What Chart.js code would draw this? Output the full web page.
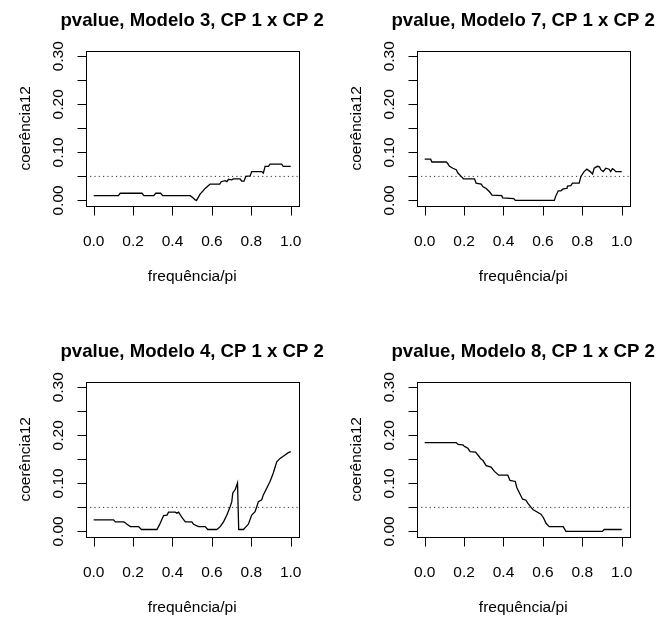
<!DOCTYPE html>
<html>
<head>
<meta charset="utf-8">
<script src="https://cdn.jsdelivr.net/npm/chart.js@4"></script>
<style>
  body { margin: 0; background: #fff; width: 662px; height: 617px; overflow: hidden; position: relative; }
  .cell { position: absolute; width: 331px; height: 331px; }
</style>
</head>
<body>
<div class="cell" style="left:0;top:0"><canvas id="c3" width="331" height="331"></canvas></div>
<div class="cell" style="left:331px;top:0"><canvas id="c7" width="331" height="331"></canvas></div>
<div class="cell" style="left:0;top:331px"><canvas id="c4" width="331" height="331"></canvas></div>
<div class="cell" style="left:331px;top:331px"><canvas id="c8" width="331" height="331"></canvas></div>
<script>
// values (frequencia/pi, pvalue)
const m3Freq = [0.00,0.125,0.135,0.245,0.255,0.305,0.315,0.34,0.35,0.49,0.505,0.515,0.522,0.54,0.555,0.566,0.58,0.591,0.64,0.647,0.667,0.676,0.684,0.70,0.709,0.743,0.751,0.763,0.772,0.794,0.802,0.853,0.861,0.870,0.887,0.895,0.954,0.962,1.0];
const m3Pval = [0.010,0.010,0.015,0.015,0.010,0.010,0.015,0.015,0.010,0.010,0.005,0.001,0.0,0.013,0.020,0.025,0.030,0.034,0.034,0.039,0.041,0.039,0.044,0.043,0.045,0.045,0.040,0.040,0.050,0.051,0.060,0.060,0.057,0.071,0.071,0.0755,0.0755,0.071,0.071];

const m7Freq = [0.00,0.030,0.037,0.110,0.118,0.126,0.143,0.160,0.169,0.185,0.197,0.253,0.261,0.287,0.295,0.312,0.329,0.342,0.391,0.396,0.452,0.460,0.658,0.666,0.678,0.691,0.703,0.722,0.725,0.742,0.750,0.784,0.793,0.809,0.823,0.840,0.852,0.860,0.877,0.887,0.894,0.906,0.919,0.936,0.944,0.953,0.961,0.970,1.0];
const m7Pval = [0.086,0.086,0.080,0.080,0.076,0.071,0.067,0.064,0.057,0.050,0.045,0.045,0.036,0.034,0.029,0.025,0.018,0.011,0.010,0.0055,0.004,0.0,0.0,0.010,0.020,0.020,0.024,0.025,0.030,0.031,0.036,0.036,0.050,0.060,0.065,0.060,0.055,0.067,0.071,0.070,0.064,0.060,0.067,0.065,0.060,0.066,0.064,0.060,0.060];

const m4Freq = [0.00,0.101,0.110,0.152,0.157,0.169,0.186,0.228,0.242,0.321,0.333,0.355,0.372,0.380,0.414,0.422,0.431,0.448,0.465,0.498,0.507,0.532,0.566,0.579,0.625,0.642,0.659,0.676,0.693,0.701,0.706,0.718,0.730,0.736,0.760,0.769,0.785,0.802,0.819,0.828,0.836,0.853,0.861,0.878,0.895,0.912,0.929,0.946,0.971,0.988,1.0];
const m4Pval = [0.024,0.024,0.020,0.020,0.019,0.015,0.010,0.010,0.004,0.004,0.013,0.033,0.034,0.040,0.040,0.038,0.040,0.029,0.020,0.020,0.015,0.010,0.010,0.004,0.004,0.010,0.020,0.034,0.052,0.062,0.080,0.087,0.101,0.004,0.004,0.008,0.015,0.034,0.041,0.052,0.062,0.066,0.076,0.090,0.104,0.122,0.145,0.152,0.159,0.164,0.166];

const m8Freq = [0.00,0.160,0.169,0.194,0.202,0.219,0.231,0.258,0.270,0.287,0.295,0.312,0.337,0.354,0.376,0.422,0.433,0.460,0.467,0.481,0.497,0.514,0.523,0.540,0.551,0.573,0.590,0.602,0.616,0.632,0.703,0.717,0.902,0.911,1.0];
const m8Pval = [0.185,0.185,0.181,0.180,0.177,0.173,0.166,0.165,0.159,0.150,0.148,0.137,0.134,0.125,0.117,0.117,0.106,0.104,0.092,0.080,0.067,0.065,0.059,0.050,0.045,0.040,0.036,0.029,0.017,0.010,0.010,0.0,0.0,0.004,0.004];

const refLevel = 0.05;
const xTicks = [0, 0.2, 0.4, 0.6, 0.8, 1.0];
const xTickLabels = ['0.0', '0.2', '0.4', '0.6', '0.8', '1.0'];
const yTicks = [0, 0.05, 0.10, 0.15, 0.20, 0.25, 0.30];
const yLabelTicks = [0, 0.10, 0.20, 0.30];
const yTickLabels = ['0.00', '0.10', '0.20', '0.30'];
const xMin = -0.04, xMax = 1.04;
const yMin = -0.012, yMax = 0.312;

const FONT = '"Liberation Sans", Arial, Helvetica, sans-serif';

// R style box, ticks and labels
const rFrame = {
  id: 'rFrame',
  afterDraw(chart, args, opts) {
    const ctx = chart.ctx, a = chart.chartArea;
    const xs = chart.scales.x, ys = chart.scales.y;
    const L = Math.round(a.left) + 0.5, R = Math.round(a.right) + 0.5;
    const T = Math.round(a.top) + 0.5, B = Math.round(a.bottom) + 0.5;
    const tickLen = 9;
    ctx.save();
    ctx.strokeStyle = '#000';
    ctx.fillStyle = '#000';
    ctx.lineWidth = 1;
    ctx.strokeRect(L, T, R - L, B - T);
    ctx.beginPath();
    xTicks.forEach(v => {
      const px = Math.round(xs.getPixelForValue(v)) + 0.5;
      ctx.moveTo(px, B); ctx.lineTo(px, B + tickLen);
    });
    yTicks.forEach(v => {
      const py = Math.round(ys.getPixelForValue(v)) + 0.5;
      ctx.moveTo(L, py); ctx.lineTo(L - tickLen, py);
    });
    ctx.stroke();

    ctx.textAlign = 'center';
    ctx.textBaseline = 'alphabetic';
    ctx.font = '15.5px ' + FONT;
    xTicks.forEach((v, i) => ctx.fillText(xTickLabels[i], xs.getPixelForValue(v), a.bottom + 40));
    ctx.fillText('frequência/pi', (a.left + a.right) / 2, a.bottom + 75);
    yLabelTicks.forEach((v, i) => {
      ctx.save();
      ctx.translate(a.left - 23, ys.getPixelForValue(v));
      ctx.rotate(-Math.PI / 2);
      ctx.fillText(yTickLabels[i], 0, 0);
      ctx.restore();
    });
    ctx.save();
    ctx.translate(a.left - 56, (a.top + a.bottom) / 2);
    ctx.rotate(-Math.PI / 2);
    ctx.fillText('coerência12', 0, 0);
    ctx.restore();

    ctx.font = 'bold 18.6px ' + FONT;
    ctx.fillText(opts.title, (a.left + a.right) / 2, a.top - 25);
    ctx.restore();
  }
};

function makePanel(id, title, freq, pval) {
  const pts = freq.map((f, i) => ({ x: f, y: pval[i] }));
  new Chart(document.getElementById(id), {
    type: 'line',
    data: {
      datasets: [
        { data: pts, borderColor: '#000', borderWidth: 1.3, pointRadius: 0, tension: 0, fill: false },
        { data: [{ x: xMin, y: refLevel }, { x: xMax, y: refLevel }], borderColor: '#333',
          borderWidth: 1, borderDash: [1.2, 3.1], pointRadius: 0, fill: false }
      ]
    },
    options: {
      responsive: false,
      animation: false,
      devicePixelRatio: 1,
      layout: { padding: { left: 85.8, right: 32.4, top: 50.5, bottom: 124.8 } },
      scales: {
        x: { type: 'linear', min: xMin, max: xMax, display: false },
        y: { type: 'linear', min: yMin, max: yMax, display: false }
      },
      plugins: { legend: { display: false }, tooltip: { enabled: false }, rFrame: { title: title } }
    },
    plugins: [rFrame]
  });
}

makePanel('c3', 'pvalue, Modelo 3, CP 1 x CP 2', m3Freq, m3Pval);
makePanel('c7', 'pvalue, Modelo 7, CP 1 x CP 2', m7Freq, m7Pval);
makePanel('c4', 'pvalue, Modelo 4, CP 1 x CP 2', m4Freq, m4Pval);
makePanel('c8', 'pvalue, Modelo 8, CP 1 x CP 2', m8Freq, m8Pval);
</script>
</body>
</html>
